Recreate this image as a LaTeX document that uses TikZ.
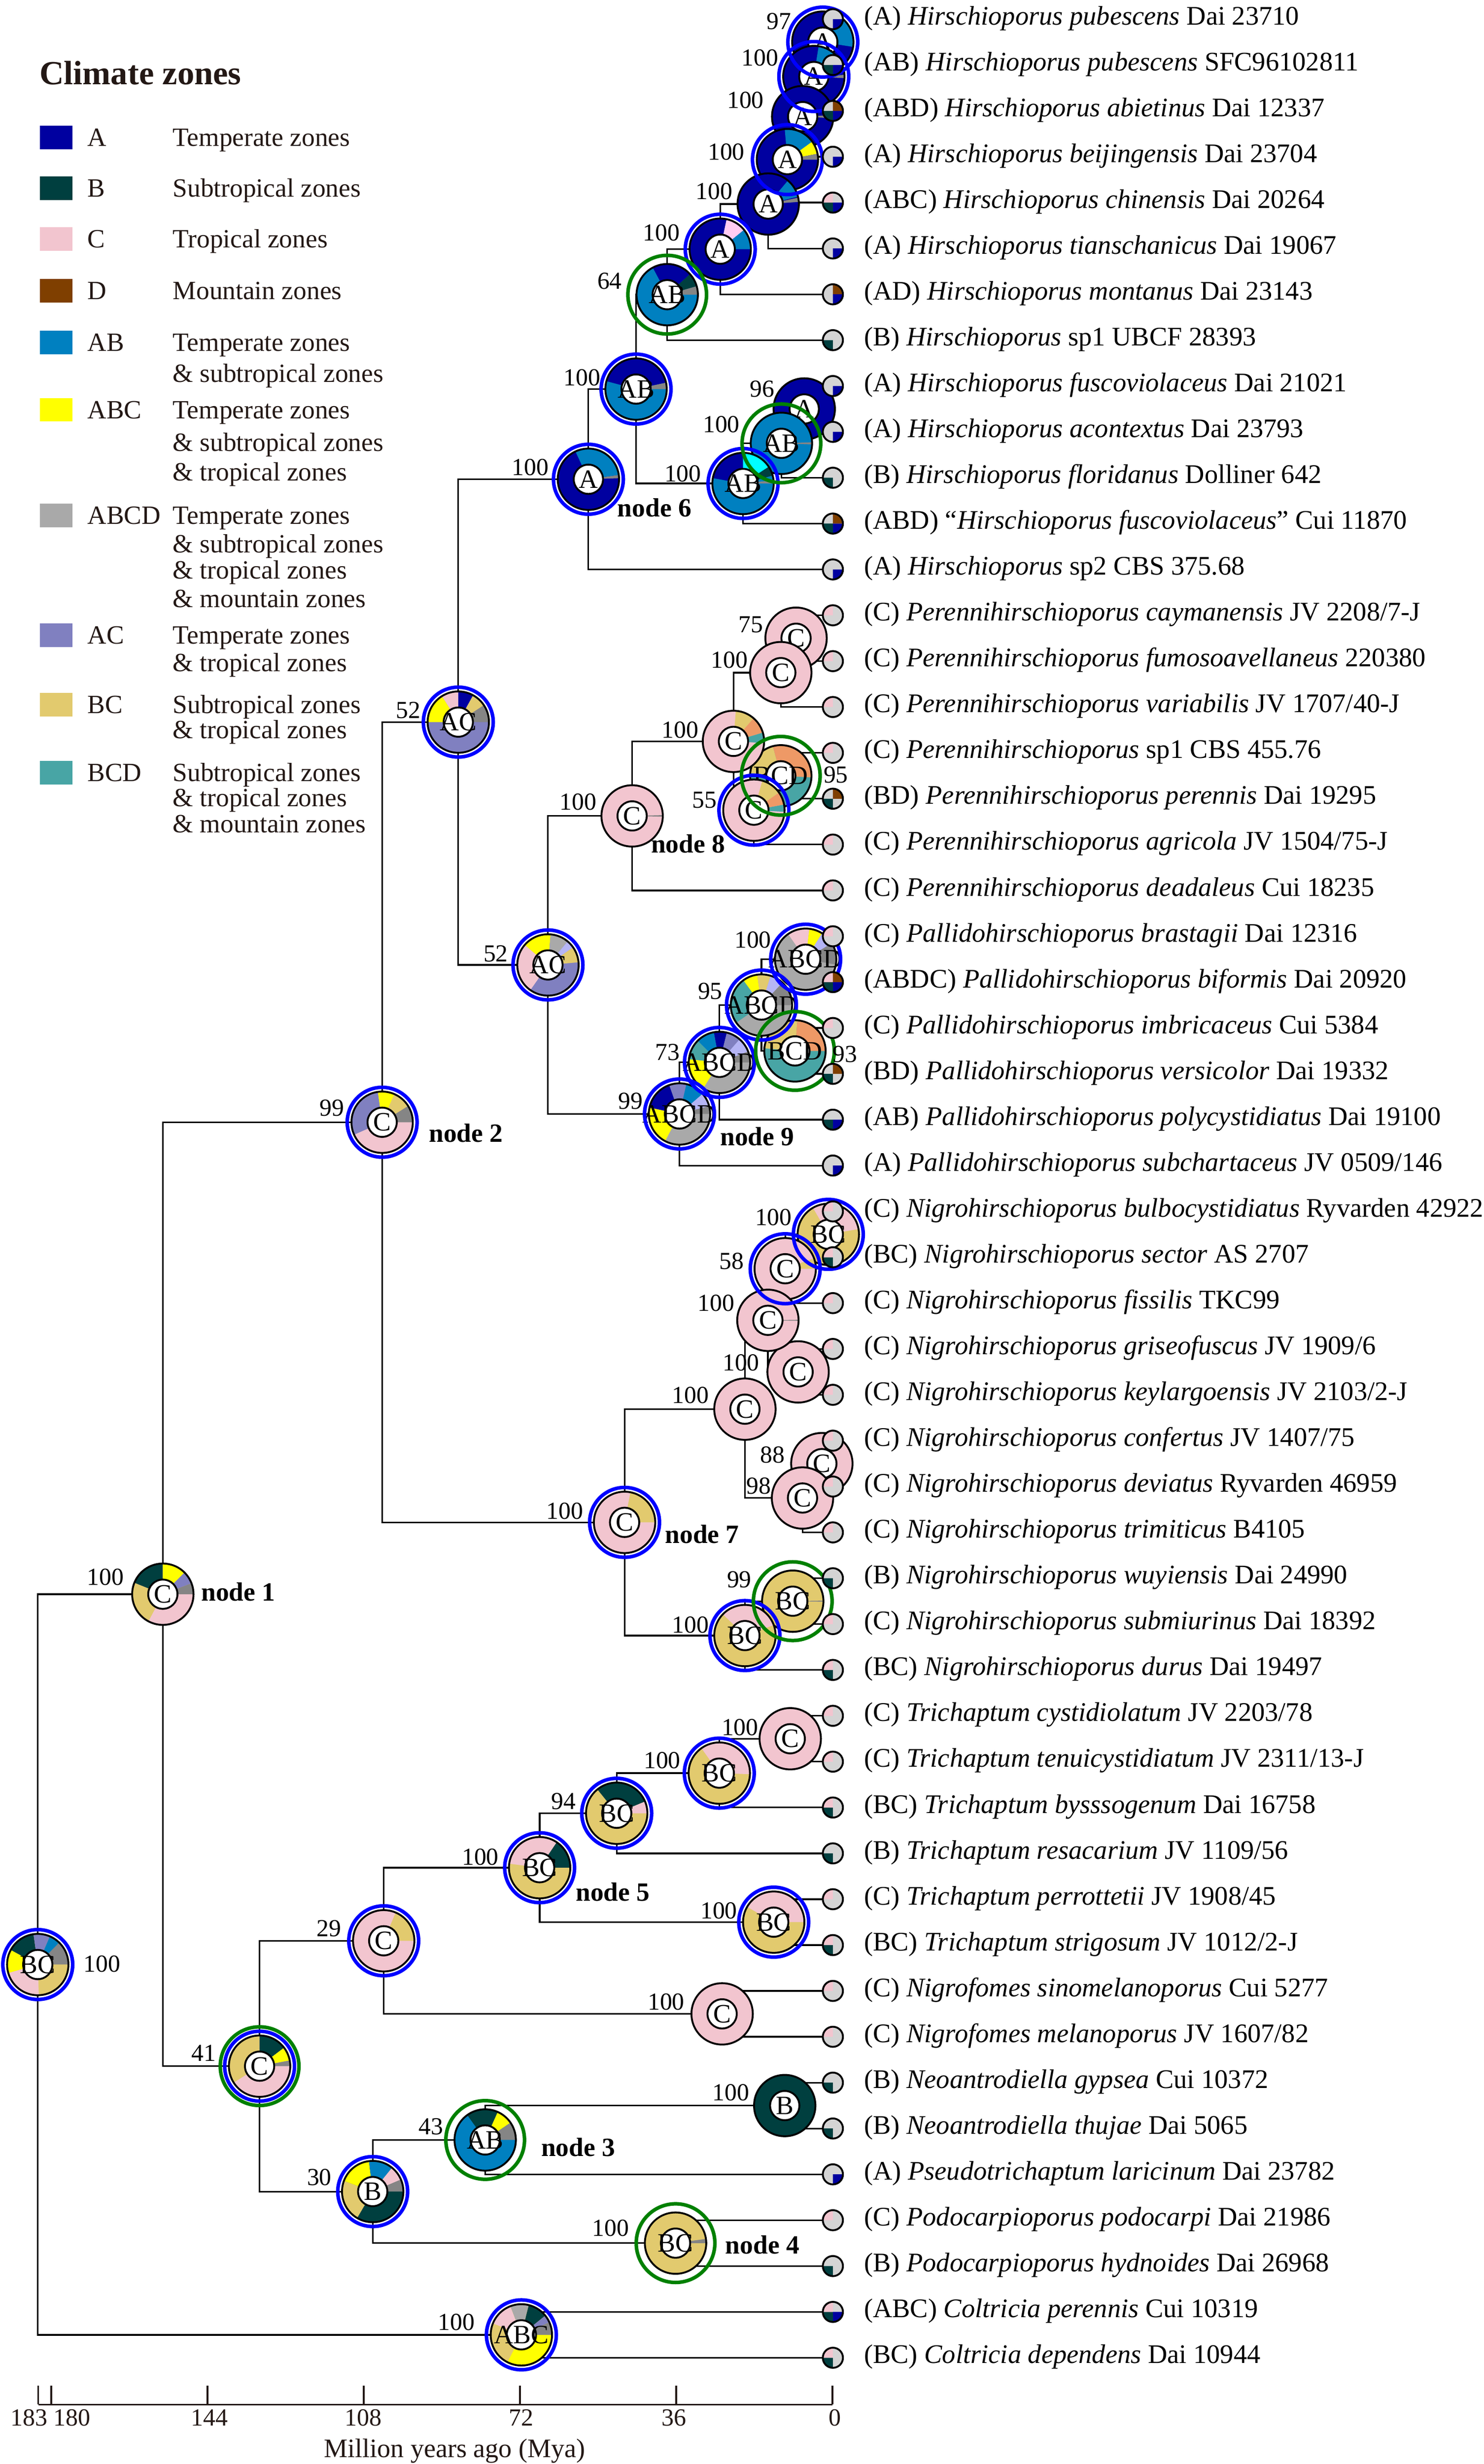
\documentclass[tikz,border=0pt]{standalone}
\usepackage{fontspec}
\setmainfont{Liberation Serif}
\usetikzlibrary{calc}
\definecolor{cA}{HTML}{0000A0}
\definecolor{cB}{HTML}{003F3F}
\definecolor{cC}{HTML}{F2C5CF}
\definecolor{cD}{HTML}{7F3F00}
\definecolor{cAB}{HTML}{0080C0}
\definecolor{cABC}{HTML}{FFFF00}
\definecolor{cABCD}{HTML}{A9A9A9}
\definecolor{cAC}{HTML}{8080C0}
\definecolor{cBC}{HTML}{E2CA6E}
\definecolor{cBCD}{HTML}{48A5A5}
\definecolor{cG}{HTML}{858585}
\definecolor{cLL}{HTML}{B5B5F5}
\definecolor{cOR}{HTML}{EE9966}
\definecolor{cCY}{HTML}{00FFFF}
\definecolor{cLP}{HTML}{FFCCF2}
\definecolor{tipgray}{HTML}{D4D4D4}
\definecolor{haloblue}{HTML}{0000FF}
\definecolor{halogreen}{HTML}{008000}
\definecolor{legink}{HTML}{231815}
\newcommand\pienode[3]{%
  \begin{scope}[shift={(#1)}, yscale=-1]
    \foreach \pc/\ps/\pe in {#3}{\fill[\pc] (0,0) -- (\ps:19.5) arc[start angle=\ps, end angle=\pe, radius=19.5] -- cycle;}
    \draw[pieborder] (0,0) circle[radius=19.5];
    \filldraw[fill=white, pieborder] (0,0) circle[radius=9.3];
  \end{scope}
  \node[pielabel] (#1-lab) at (#1) {#2};
}
\newcommand\tippie[2]{%
  \begin{scope}[shift={(#1)}, yscale=-1]
    \fill[tipgray] (0,0) circle[radius=6.4];
    \foreach \qc/\qs in {#2}{\fill[\qc] (0,0) -- (\qs:6.4) arc[start angle=\qs, delta angle=90, radius=6.4] -- cycle;}
    \draw[tipborder] (0,0) circle[radius=6.4];
  \end{scope}
}
\newcommand\brn[3]{\draw[branch] (#2) -- (#1 |- #2) -- (#1 |- #3) -- (#3);}
\newcommand\tiplab[3]{\tippie{t#1}{#2}\node[tiplabel] (lab#1) at ($(t#1)+(19.6,3.5)$) {#3};}
\newcommand\sv[4]{\node[supval] (sv#1) at (#2,#3) {#4};}
\begin{document}
\begin{tikzpicture}[x=0.032566cm, y=-0.032566cm,
  branch/.style={draw=black, line width=0.95pt},
  pieborder/.style={draw=black, line width=1.1pt},
  bhalo/.style={draw=haloblue, line width=2.1pt},
  ghalo/.style={draw=halogreen, line width=2.1pt},
  tipborder/.style={draw=black, line width=1.1pt},
  tiplabel/.style={anchor=base west, inner sep=0pt, font=\fontsize{15.8}{18}\selectfont},
  supval/.style={inner sep=0pt, font=\fontsize{14.4}{16}\selectfont},
  pielabel/.style={inner sep=0pt, font=\fontsize{15.6}{17}\selectfont},
  nodelab/.style={inner sep=0pt, font=\fontsize{15.5}{18}\selectfont\bfseries},
  legtext/.style={anchor=base west, inner sep=0pt, text=legink, font=\fontsize{15.5}{18}\selectfont},
  ticklab/.style={inner sep=0pt, text=legink, font=\fontsize{14.5}{16}\selectfont},
  axisline/.style={draw=legink, line width=1.1pt}
]
\useasboundingbox (0,0) rectangle (943,1566.4);

% ---------- coordinates ----------
\foreach \i in {1,...,52} {\coordinate (t\i) at (529.4,{12.2+(\i-1)*29.15});}
\coordinate (Na) at (523,26.775);
\coordinate (Nb) at (517.3,48.64);
\coordinate (Nc) at (510.2,74.14);
\coordinate (Nd) at (500.5,101.47);
\coordinate (Ne) at (488.3,129.71);
\coordinate (Nf) at (457.8,158.41);
\coordinate (Ng) at (424.1,187.33);
\coordinate (Nm) at (511.2,259.98);
\coordinate (Nn) at (496.7,281.84);
\coordinate (Nk) at (472.3,307.35);
\coordinate (Nh) at (404.3,247.34);
\coordinate (N6) at (374,304.67);
\coordinate (P75) at (506,405.73);
\coordinate (Pa) at (496.3,427.59);
\coordinate (Pbcd) at (496.3,493.18);
\coordinate (P55) at (479.2,515.04);
\coordinate (Pb) at (466.2,471.31);
\coordinate (N8) at (401.8,518.68);
\coordinate (Q100) at (512.1,609.78);
\coordinate (Qbcd) at (505.3,668.08);
\coordinate (Q95) at (484,638.93);
\coordinate (Q73) at (457.3,675.37);
\coordinate (N9) at (431.9,708.16);
\coordinate (ACl) at (348.3,613.42);
\coordinate (ACu) at (291.3,459.05);
\coordinate (Ra) at (526.5,784.68);
\coordinate (R58) at (499.1,806.54);
\coordinate (Rc) at (507.3,872.13);
\coordinate (Rb) at (488.1,839.34);
\coordinate (R88) at (522.4,930.43);
\coordinate (R98) at (510.1,952.29);
\coordinate (Rd) at (473.5,895.82);
\coordinate (R99) at (503.9,1017.88);
\coordinate (Re) at (473.5,1039.74);
\coordinate (N7) at (397,967.78);
\coordinate (N2) at (242.9,713.42);
\coordinate (Sa) at (502.3,1105.33);
\coordinate (Sb) at (457.2,1127.19);
\coordinate (S94) at (392,1152.7);
\coordinate (Sc) at (491.8,1221.93);
\coordinate (N5) at (343,1187.31);
\coordinate (Sd) at (459,1280.23);
\coordinate (S29) at (243.9,1233.77);
\coordinate (U100) at (498.8,1338.53);
\coordinate (N3) at (308.4,1360.39);
\coordinate (N4) at (429.4,1425.98);
\coordinate (U30) at (236.9,1393.19);
\coordinate (S41) at (165,1313.48);
\coordinate (N1) at (103.5,1013.45);
\coordinate (W100) at (331.4,1484.28);
\coordinate (Root) at (24,1248.87);

% ---------- branches ----------
\brn{Na}{t1}{t2}
\brn{Nb}{Na}{t3}
\brn{Nc}{Nb}{t4}
\brn{Nd}{Nc}{t5}
\brn{Ne}{Nd}{t6}
\brn{Nf}{Ne}{t7}
\brn{Ng}{Nf}{t8}
\brn{Nm}{t9}{t10}
\brn{Nn}{Nm}{t11}
\brn{Nk}{Nn}{t12}
\brn{Nh}{Ng}{Nk}
\brn{N6}{Nh}{t13}
\brn{P75}{t14}{t15}
\brn{Pa}{P75}{t16}
\brn{Pbcd}{t17}{t18}
\brn{P55}{Pbcd}{t19}
\brn{Pb}{Pa}{P55}
\brn{N8}{Pb}{t20}
\brn{Q100}{t21}{t22}
\brn{Qbcd}{t23}{t24}
\brn{Q95}{Q100}{Qbcd}
\brn{Q73}{Q95}{t25}
\brn{N9}{Q73}{t26}
\brn{ACl}{N8}{N9}
\brn{ACu}{N6}{ACl}
\brn{Ra}{t27}{t28}
\brn{R58}{Ra}{t29}
\brn{Rc}{t30}{t31}
\brn{Rb}{R58}{Rc}
\brn{R88}{t32}{t33}
\brn{R98}{R88}{t34}
\brn{Rd}{Rb}{R98}
\brn{R99}{t35}{t36}
\brn{Re}{R99}{t37}
\brn{N7}{Rd}{Re}
\brn{N2}{ACu}{N7}
\brn{Sa}{t38}{t39}
\brn{Sb}{Sa}{t40}
\brn{S94}{Sb}{t41}
\brn{Sc}{t42}{t43}
\brn{N5}{S94}{Sc}
\brn{Sd}{t44}{t45}
\brn{S29}{N5}{Sd}
\brn{U100}{t46}{t47}
\brn{N3}{U100}{t48}
\brn{N4}{t49}{t50}
\brn{U30}{N3}{N4}
\brn{S41}{S29}{U30}
\brn{N1}{N2}{S41}
\brn{W100}{t51}{t52}
\brn{Root}{N1}{W100}

% ---------- ancestral-area pies ----------
\pienode{Na}{A}{cA/0/360, cAB/-9/56}
\pienode{Nb}{A}{cA/0/360, cAB/45/81, cG/-3/3}
\pienode{Nc}{A}{cA/0/360, cG/-3/3}
\pienode{Nd}{A}{cA/0/360, cAB/36/95, cABC/11/36, cG/0/11}
\pienode{Ne}{A}{cA/0/360, cAB/14/50, cG/4/12}
\pienode{Nf}{A}{cA/0/360, cLP/39/78, cAB/0/39}
\pienode{Ng}{AB}{cAB/0/360, cA/42/118, cB/16/42, cG/0/16}
\pienode{Nm}{A}{cA/0/360}
\pienode{Nn}{AB}{cAB/0/360, cG/-2/2}
\pienode{Nk}{AB}{cAB/0/360, cA/90/170, cCY/33/90, cB/15/33, cG/0/6}
\pienode{Nh}{AB}{cAB/0/360, cA/12/165, cG/0/12}
\pienode{N6}{A}{cA/0/360, cAB/8/115, cG/2/8}
\pienode{P75}{C}{cC/0/360}
\pienode{Pa}{C}{cC/0/360}
\pienode{Pbcd}{BCD}{cBCD/0/360, cBC/105/175, cOR/-3/105}
\pienode{P55}{C}{cC/0/360, cBC/35/74, cOR/10.5/35, cBCD/-3/10.5}
\pienode{Pb}{C}{cC/0/360, cBC/49/85.6, cOR/16.6/49, cBCD/-3/16.6}
\pienode{N8}{C}{cC/0/360, cG/-1.5/1.5}
\pienode{Q100}{ABCD}{cABCD/0/360, cC/83/124.8, cABC/57.6/83, cLL/31.6/57.6, cG/-10/31.6}
\pienode{Qbcd}{BCD}{cBCD/0/360, cBC/85.5/175, cOR/0/85.5}
\pienode{Q95}{ABCD}{cABCD/0/360, cBCD/126/215, cABC/98/126, cBC/72.6/98, cLL/46.8/72.6, cG/0/46.8}
\pienode{Q73}{ABCD}{cABCD/0/360, cABC/174/238, cBCD/135/174, cAB/100.5/135, cA/76/100.5, cAC/48.8/76, cLL/20.7/48.8, cG/0/20.7}
\pienode{N9}{ABCD}{cABCD/0/360, cABC/167.8/242, cA/109.5/167.8, cAC/77/109.5, cAB/41/77, cLL/15/41, cG/0/15}
\pienode{ACl}{AC}{cAC/0/360, cC/139/235, cABC/85/139, cABCD/50/85, cLL/35/50, cBC/5/35}
\pienode{ACu}{AC}{cAC/0/360, cABC/122/180, cC/90/122, cA/61/90, cBC/33.5/61, cG/0/33.5}
\pienode{Ra}{BC}{cBC/0/360, cC/10/120}
\pienode{R58}{C}{cC/0/360, cBC/0/20}
\pienode{Rc}{C}{cC/0/360}
\pienode{Rb}{C}{cC/0/360, cG/-1/1}
\pienode{R88}{C}{cC/0/360}
\pienode{R98}{C}{cC/0/360}
\pienode{Rd}{C}{cC/0/360}
\pienode{R99}{BC}{cBC/0/360, cG/-1/1}
\pienode{Re}{BC}{cBC/0/360, cC/20/136}
\pienode{N7}{C}{cC/0/360, cBC/0/79}
\pienode{N2}{C}{cC/0/360, cAC/98/204, cABC/66.6/98, cBC/32/66.6, cG/0/32}
\pienode{Sa}{C}{cC/0/360}
\pienode{Sb}{BC}{cBC/0/360, cC/-2/125.6}
\pienode{S94}{BC}{cBC/0/360, cB/22.5/129, cC/0/22.5}
\pienode{Sc}{BC}{cBC/0/360, cC/0/150}
\pienode{N5}{BC}{cBC/0/360, cC/56/172.4, cB/0/56}
\pienode{Sd}{C}{cC/0/360}
\pienode{S29}{C}{cC/0/360, cBC/0/67}
\pienode{U100}{B}{cB/0/360}
\pienode{N3}{AB}{cAB/0/360, cB/65.8/125.7, cABC/34.3/65.8, cG/0/34.3}
\pienode{N4}{BC}{cBC/0/360, cG/0/8}
\pienode{U30}{B}{cB/0/360, cBC/159.6/239.5, cABC/97/159.6, cAB/51/97, cC/23/51, cG/0/23}
\pienode{S41}{C}{cC/0/360, cBC/90/212.5, cB/37/90, cABC/10.8/37, cG/0/10.8}
\pienode{N1}{C}{cC/0/360, cBC/158/242, cB/90/158, cABC/45/90, cAC/21/45, cG/0/21}
\pienode{W100}{ABC}{cABC/0/360, cBC/158/243, cC/111/158, cABCD/76/111, cB/38.8/76, cAC/24/38.8, cG/0/24}
\pienode{Root}{BC}{cBC/0/360, cC/196/272, cABC/151.5/196, cB/98/151.5, cAC/66.7/98, cAB/45.6/66.7, cG/0/45.6}

% ---------- halos ----------
\foreach \n in {Na,Nb,Nd,Nf,Nh,Nk,N6,ACu,ACl,N2,P55,Q100,Q95,Q73,N9,Ra,R58,N7,Re,Sb,S94,N5,Sc,S29,S41,U30,W100,Root}
  {\draw[bhalo] (\n) circle[radius=22.2];}
\foreach \n in {Ng,Nn,Pbcd,Qbcd,R99,S41,N3,N4}
  {\draw[ghalo] (\n) circle[radius=25];}

% ---------- tips ----------
\tiplab{1}{cA/270}{(A) \textit{Hirschioporus pubescens} Dai 23710}
\tiplab{2}{cA/270,cB/180}{(AB) \textit{Hirschioporus pubescens} SFC96102811}
\tiplab{3}{cA/270,cB/180,cD/0}{(ABD) \textit{Hirschioporus abietinus} Dai 12337}
\tiplab{4}{cA/270}{(A) \textit{Hirschioporus beijingensis} Dai 23704}
\tiplab{5}{cA/270,cB/180,cC/90}{(ABC) \textit{Hirschioporus chinensis} Dai 20264}
\tiplab{6}{cA/270}{(A) \textit{Hirschioporus tianschanicus} Dai 19067}
\tiplab{7}{cA/270,cD/0}{(AD) \textit{Hirschioporus montanus} Dai 23143}
\tiplab{8}{cB/180}{(B) \textit{Hirschioporus} sp1 UBCF 28393}
\tiplab{9}{cA/270}{(A) \textit{Hirschioporus fuscoviolaceus} Dai 21021}
\tiplab{10}{cA/270}{(A) \textit{Hirschioporus acontextus} Dai 23793}
\tiplab{11}{cB/180}{(B) \textit{Hirschioporus floridanus} Dolliner 642}
\tiplab{12}{cA/270,cB/180,cD/0}{(ABD) “\textit{Hirschioporus fuscoviolaceus}” Cui 11870}
\tiplab{13}{cA/270}{(A) \textit{Hirschioporus} sp2 CBS 375.68}
\tiplab{14}{cC/90}{(C) \textit{Perennihirschioporus caymanensis} JV 2208/7-J}
\tiplab{15}{cC/90}{(C) \textit{Perennihirschioporus fumosoavellaneus} 220380}
\tiplab{16}{cC/90}{(C) \textit{Perennihirschioporus variabilis} JV 1707/40-J}
\tiplab{17}{cC/90}{(C) \textit{Perennihirschioporus} sp1 CBS 455.76}
\tiplab{18}{cB/180,cD/0}{(BD) \textit{Perennihirschioporus perennis} Dai 19295}
\tiplab{19}{cC/90}{(C) \textit{Perennihirschioporus agricola} JV 1504/75-J}
\tiplab{20}{cC/90}{(C) \textit{Perennihirschioporus deadaleus} Cui 18235}
\tiplab{21}{cC/90}{(C) \textit{Pallidohirschioporus brastagii} Dai 12316}
\tiplab{22}{cA/270,cB/180,cC/90,cD/0}{(ABDC) \textit{Pallidohirschioporus biformis} Dai 20920}
\tiplab{23}{cC/90}{(C) \textit{Pallidohirschioporus imbricaceus} Cui 5384}
\tiplab{24}{cB/180,cD/0}{(BD) \textit{Pallidohirschioporus versicolor} Dai 19332}
\tiplab{25}{cA/270,cB/180}{(AB) \textit{Pallidohirschioporus polycystidiatus} Dai 19100}
\tiplab{26}{cA/270}{(A) \textit{Pallidohirschioporus subchartaceus} JV 0509/146}
\tiplab{27}{cC/90}{(C) \textit{Nigrohirschioporus bulbocystidiatus} Ryvarden 42922}
\tiplab{28}{cB/180,cC/90}{(BC) \textit{Nigrohirschioporus sector} AS 2707}
\tiplab{29}{cC/90}{(C) \textit{Nigrohirschioporus fissilis} TKC99}
\tiplab{30}{cC/90}{(C) \textit{Nigrohirschioporus griseofuscus} JV 1909/6}
\tiplab{31}{cC/90}{(C) \textit{Nigrohirschioporus keylargoensis} JV 2103/2-J}
\tiplab{32}{cC/90}{(C) \textit{Nigrohirschioporus confertus} JV 1407/75}
\tiplab{33}{cC/90}{(C) \textit{Nigrohirschioporus deviatus} Ryvarden 46959}
\tiplab{34}{cC/90}{(C) \textit{Nigrohirschioporus trimiticus} B4105}
\tiplab{35}{cB/180}{(B) \textit{Nigrohirschioporus wuyiensis} Dai 24990}
\tiplab{36}{cC/90}{(C) \textit{Nigrohirschioporus submiurinus} Dai 18392}
\tiplab{37}{cB/180,cC/90}{(BC) \textit{Nigrohirschioporus durus} Dai 19497}
\tiplab{38}{cC/90}{(C) \textit{Trichaptum cystidiolatum} JV 2203/78}
\tiplab{39}{cC/90}{(C) \textit{Trichaptum tenuicystidiatum} JV 2311/13-J}
\tiplab{40}{cB/180,cC/90}{(BC) \textit{Trichaptum bysssogenum} Dai 16758}
\tiplab{41}{cB/180}{(B) \textit{Trichaptum resacarium} JV 1109/56}
\tiplab{42}{cC/90}{(C) \textit{Trichaptum perrottetii} JV 1908/45}
\tiplab{43}{cB/180,cC/90}{(BC) \textit{Trichaptum strigosum} JV 1012/2-J}
\tiplab{44}{cC/90}{(C) \textit{Nigrofomes sinomelanoporus} Cui 5277}
\tiplab{45}{cC/90}{(C) \textit{Nigrofomes melanoporus} JV 1607/82}
\tiplab{46}{cB/180}{(B) \textit{Neoantrodiella gypsea} Cui 10372}
\tiplab{47}{cB/180}{(B) \textit{Neoantrodiella thujae} Dai 5065}
\tiplab{48}{cA/270}{(A) \textit{Pseudotrichaptum laricinum} Dai 23782}
\tiplab{49}{cC/90}{(C) \textit{Podocarpioporus podocarpi} Dai 21986}
\tiplab{50}{cB/180}{(B) \textit{Podocarpioporus hydnoides} Dai 26968}
\tiplab{51}{cA/270,cB/180,cC/90}{(ABC) \textit{Coltricia perennis} Cui 10319}
\tiplab{52}{cB/180,cC/90}{(BC) \textit{Coltricia dependens} Dai 10944}

% ---------- support values ----------
\sv{Na}{495.2}{13.5}{97}
\sv{Nb}{483}{36.7}{100}
\sv{Nc}{473.8}{63.7}{100}
\sv{Nd}{461.6}{96.7}{100}
\sv{Ne}{454}{121.7}{100}
\sv{Nf}{420.3}{148}{100}
\sv{Ng}{387.5}{178.8}{64}
\sv{Nh}{369.9}{240}{100}
\sv{N6}{337}{297}{100}
\sv{Nm}{484.5}{247.4}{96}
\sv{Nn}{458.5}{269.8}{100}
\sv{Nk}{434}{301}{100}
\sv{ACu}{259.4}{451.6}{52}
\sv{ACl}{315.1}{606.2}{52}
\sv{N2}{211}{704.3}{99}
\sv{P75}{477.2}{397}{75}
\sv{Pa}{463.7}{419.4}{100}
\sv{Pb}{432.3}{464}{100}
\sv{Pbcd}{531.3}{492.7}{95}
\sv{P55}{447.7}{508.5}{55}
\sv{N8}{367.5}{509.8}{100}
\sv{Q100}{478.5}{597.6}{100}
\sv{Q95}{451.4}{630.2}{95}
\sv{Qbcd}{537.1}{670.2}{93}
\sv{Q73}{424.4}{668.9}{73}
\sv{N9}{400.7}{700}{99}
\sv{Ra}{491.6}{773.9}{100}
\sv{R58}{465.1}{801.6}{58}
\sv{Rb}{455.2}{828.4}{100}
\sv{Rc}{471}{866.4}{100}
\sv{Rd}{438.8}{887}{100}
\sv{R88}{491.1}{925}{88}
\sv{R98}{482.2}{944.6}{98}
\sv{N7}{359}{960.5}{100}
\sv{R99}{469.9}{1004.2}{99}
\sv{Re}{438.8}{1033}{100}
\sv{N1}{67}{1002.6}{100}
\sv{Sa}{470.3}{1098.2}{100}
\sv{Sb}{420.9}{1119.2}{100}
\sv{S94}{358.2}{1145}{94}
\sv{N5}{305.3}{1180.6}{100}
\sv{Sc}{456.9}{1214.5}{100}
\sv{S29}{209}{1225.8}{29}
\sv{Sd}{423.4}{1272.7}{100}
\sv{S41}{129.4}{1305}{41}
\sv{U100}{464.6}{1330.2}{100}
\sv{N3}{273.9}{1351.8}{43}
\sv{U30}{203}{1384.2}{30}
\sv{N4}{388.1}{1416.5}{100}
\sv{W100}{290.1}{1476.3}{100}
\sv{Root}{64.9}{1248.4}{100}

% ---------- node names ----------
\node[nodelab] (lbl6) at (416,322.8) {node 6};
\node[nodelab] (lbl8) at (437.4,536.5) {node 8};
\node[nodelab] (lbl9) at (481.3,722.4) {node 9};
\node[nodelab] (lbl2) at (296.2,720.4) {node 2};
\node[nodelab] (lbl7) at (446.3,975.4) {node 7};
\node[nodelab] (lbl1) at (151.4,1011.8) {node 1};
\node[nodelab] (lbl5) at (389.5,1202.6) {node 5};
\node[nodelab] (lbl3) at (367.5,1365) {node 3};
\node[nodelab] (lbl4) at (484.6,1427.1) {node 4};

% ---------- legend ----------
\node[anchor=base west, inner sep=0pt, text=legink, font=\fontsize{19.9}{22}\selectfont\bfseries] (legtitle) at (24.9,53.8) {Climate zones};
\foreach \col/\yy/\code in {cA/87.3/A, cB/119.6/B, cC/151.9/C, cD/184.9/D, cAB/217.8/AB, cABC/260.5/ABC, cABCD/327.7/ABCD, cAC/403.9/AC, cBC/447.9/BC, cBCD/491.2/BCD}
  {\fill[\col] (25.4,{\yy-7.5}) rectangle (46.1,{\yy+7.5});
   \node[legtext] (lg\code) at (55.4,{\yy+5.5}) {\code};}
\foreach \yy/\txt [count=\k] in {87.3/Temperate zones, 119.6/Subtropical zones, 151.9/Tropical zones, 184.9/Mountain zones, 217.8/Temperate zones, 237.5/{\& subtropical zones}, 260.5/Temperate zones, 281.4/{\& subtropical zones}, 300.1/{\& tropical zones}, 327.7/Temperate zones, 345.7/{\& subtropical zones}, 362.3/{\& tropical zones}, 380.6/{\& mountain zones}, 403.9/Temperate zones, 421.2/{\& tropical zones}, 447.9/Subtropical zones, 463.9/{\& tropical zones}, 491.2/Subtropical zones, 507.1/{\& tropical zones}, 523.8/{\& mountain zones}}
  {\node[legtext] (ld\k) at (109.7,{\yy+5.5}) {\txt};}

% ---------- time axis ----------
\coordinate (axL) at (24.3,1528.6);
\coordinate (axR) at (529.2,1528.6);
\draw[axisline] (axL) -- (axR);
\foreach \t/\lx in {183/18.4,180/45.8,144/133.2,108/230.9,72/331.4,36/428.3,0/530.6}
  {\coordinate (tk\t) at ({529.2-2.759*\t},1528.6);
   \draw[axisline] (tk\t) -- ++(0,-12);
   \node[ticklab] (tl\t) at (\lx,1537) {\t};}
\node[ticklab, anchor=base, font=\fontsize{15.7}{18}\selectfont] (axtitle) at (289,1562.2) {Million years ago (Mya)};
\end{tikzpicture}
\end{document}
